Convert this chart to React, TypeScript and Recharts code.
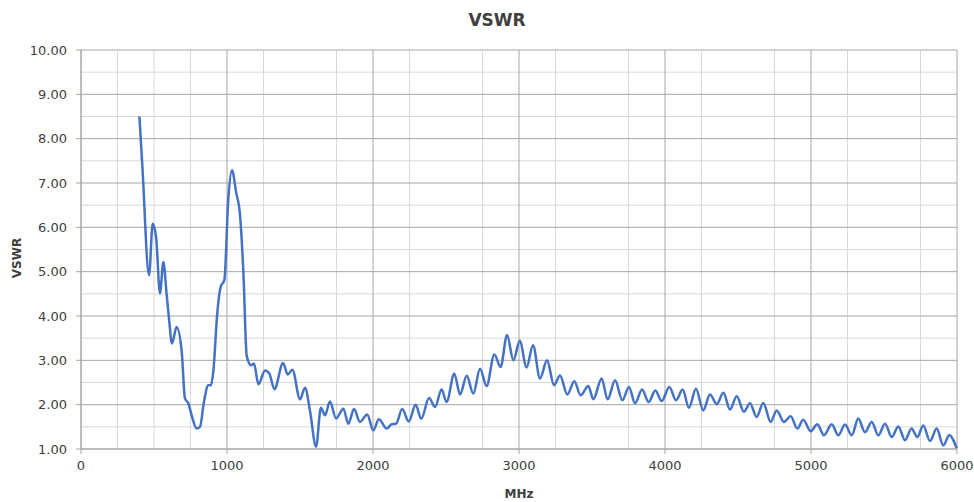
import React from 'react';
import { LineChart, Line, XAxis, YAxis, CartesianGrid } from 'recharts';

// frequency in MHz
const freq = [
  400, 420, 466, 491, 515, 541, 564, 587, 605, 623, 655, 690, 712, 735, 758, 792, 815, 842, 872, 890,
  906, 934, 957, 982, 1009, 1034, 1062, 1089, 1112, 1135, 1165, 1185, 1215, 1260, 1290, 1325, 1384, 1416, 1448, 1500,
  1534, 1568, 1610, 1643, 1671, 1705, 1747, 1797, 1831, 1870, 1911, 1960, 2002, 2040, 2094, 2128, 2158, 2200, 2245, 2292,
  2330, 2384, 2425, 2470, 2504, 2557, 2596, 2642, 2687, 2733, 2778, 2831, 2874, 2918, 2962, 3005, 3052, 3096, 3144, 3192,
  3240, 3281, 3331, 3379, 3422, 3475, 3509, 3566, 3607, 3658, 3708, 3753, 3795, 3843, 3888, 3934, 3977, 4030, 4075, 4121,
  4164, 4212, 4262, 4308, 4354, 4400, 4445, 4491, 4541, 4582, 4628, 4673, 4724, 4765, 4815, 4861, 4906, 4947, 4998, 5043,
  5089, 5142, 5187, 5233, 5279, 5324, 5370, 5416, 5461, 5507, 5553, 5598, 5644, 5689, 5728, 5769, 5815, 5861, 5906, 5947,
  5998,
];

const vswr = [
  8.5, 7.4, 4.92, 6.08, 5.75, 4.51, 5.22, 4.47, 3.87, 3.38, 3.75, 3.19, 2.14, 2.03, 1.76, 1.46, 1.5, 2.06, 2.44, 2.44,
  2.74, 4.09, 4.66, 4.81, 6.65, 7.29, 6.8, 6.28, 5.0, 3.1, 2.89, 2.93, 2.46, 2.77, 2.7, 2.35, 2.94, 2.68, 2.79, 2.12,
  2.38, 1.87, 1.05, 1.93, 1.76, 2.07, 1.69, 1.91, 1.57, 1.9, 1.61, 1.78, 1.42, 1.67, 1.46, 1.56, 1.57, 1.9, 1.62, 2.0,
  1.68, 2.15, 1.95, 2.34, 2.06, 2.7, 2.23, 2.65, 2.25, 2.81, 2.42, 3.13, 2.85, 3.57, 3.0, 3.44, 2.84, 3.34, 2.59, 3.0,
  2.44, 2.66, 2.23, 2.53, 2.21, 2.42, 2.12, 2.59, 2.12, 2.55, 2.1, 2.4, 2.03, 2.34, 2.06, 2.32, 2.08, 2.4, 2.1, 2.34,
  1.93, 2.36, 1.87, 2.23, 2.01, 2.27, 1.89, 2.19, 1.84, 2.03, 1.72, 2.04, 1.61, 1.87, 1.61, 1.74, 1.46, 1.66, 1.4, 1.56,
  1.31, 1.56, 1.31, 1.55, 1.31, 1.69, 1.38, 1.61, 1.31, 1.57, 1.27, 1.51, 1.2, 1.46, 1.27, 1.53, 1.18, 1.46, 1.08, 1.31,
  1.01,
];

const xTicks = [0, 1000, 2000, 3000, 4000, 5000, 6000];
const yTicks = [1, 2, 3, 4, 5, 6, 7, 8, 9, 10];
const xMinor = [250, 500, 750, 1250, 1500, 1750, 2250, 2500, 2750, 3250, 3500, 3750, 4250, 4500, 4750, 5250, 5500, 5750];
const yMinor = [1.5, 2.5, 3.5, 4.5, 5.5, 6.5, 7.5, 8.5, 9.5];

const data = freq.map((f, i) => ({ f, v: vswr[i] }));

const font = '"DejaVu Sans", Verdana, sans-serif';
const textColor = '#404040';
const major = '#a6a6a6';
const minor = '#d9d9d9';

export default function App() {
  return (
    <div style={{ position: 'absolute', left: 0, top: 0, width: 974, height: 502, fontFamily: font, background: '#fff' }}>
      <div style={{ position: 'absolute', left: 497, top: 20, transform: 'translate(-50%, -50%)', fontSize: 17, fontWeight: 'bold', color: textColor }}>
        VSWR
      </div>
      <div style={{ position: 'absolute', left: 519, top: 494, transform: 'translate(-50%, -50%)', fontSize: 12, fontWeight: 'bold', color: textColor }}>
        MHz
      </div>
      <div style={{ position: 'absolute', left: 17, top: 258, transform: 'translate(-50%, -50%) rotate(-90deg)', fontSize: 12, fontWeight: 'bold', color: textColor }}>
        VSWR
      </div>
      <LineChart width={974} height={502} data={data} margin={{ top: 50, right: 17, left: 11, bottom: 10 }}>
        <CartesianGrid stroke={minor} strokeWidth={1} verticalValues={xMinor} horizontalValues={yMinor} />
        <CartesianGrid stroke={major} strokeWidth={1} verticalValues={xTicks} horizontalValues={yTicks} />
        <XAxis
          dataKey="f"
          type="number"
          domain={[0, 6000]}
          ticks={xTicks}
          height={43}
          stroke={major}
          tickSize={5}
          tickMargin={7}
          tick={{ fill: textColor, fontSize: 13, fontFamily: font }}
        />
        <YAxis
          type="number"
          domain={[1, 10]}
          ticks={yTicks}
          width={70}
          stroke={major}
          tickSize={5}
          tickMargin={9}
          tickFormatter={(v: number) => v.toFixed(2)}
          tick={{ fill: textColor, fontSize: 13, fontFamily: font }}
        />
        <Line
          type="monotone"
          dataKey="v"
          stroke="#4472C4"
          strokeWidth={2.5}
          dot={false}
          isAnimationActive={false}
        />
      </LineChart>
    </div>
  );
}
